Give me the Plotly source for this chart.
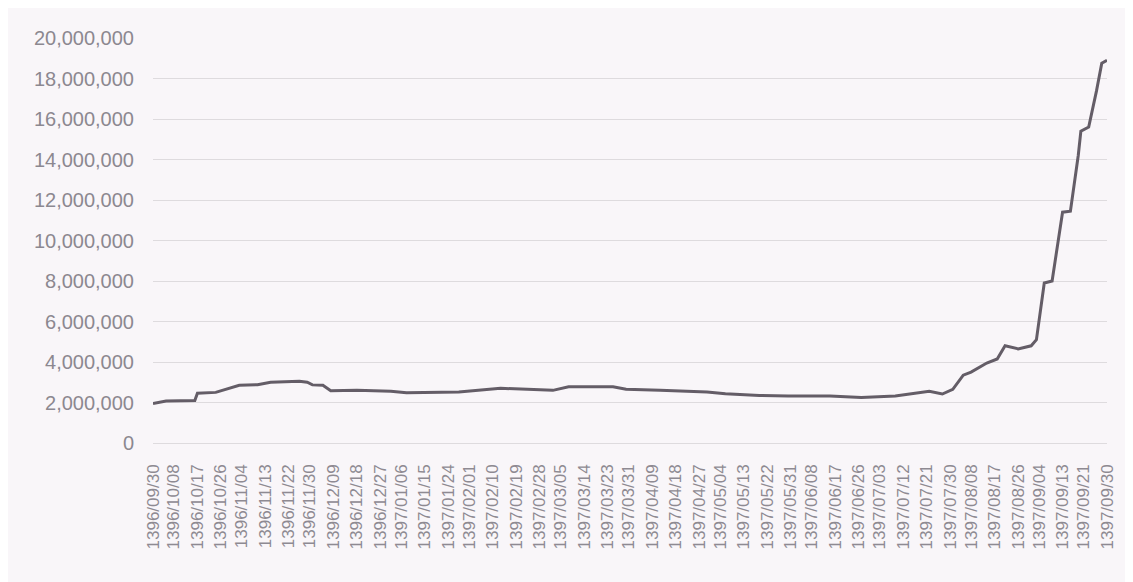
import plotly.graph_objects as go

# ---- categories: every calendar day from 1396/09/30 to 1397/09/30 ----
month_lengths_1396 = {9: 30, 10: 30, 11: 30, 12: 29}
month_lengths_1397 = {1: 31, 2: 31, 3: 31, 4: 31, 5: 31, 6: 31, 7: 30, 8: 30, 9: 30}

all_dates = ["1396/09/30"]
for m in (10, 11, 12):
    for d in range(1, month_lengths_1396[m] + 1):
        all_dates.append(f"1396/{m:02d}/{d:02d}")
for m in range(1, 10):
    for d in range(1, month_lengths_1397[m] + 1):
        all_dates.append(f"1397/{m:02d}/{d:02d}")

# ---- tick labels shown on the x axis ----
tick_labels = [
    "1396/09/30", "1396/10/08", "1396/10/17", "1396/10/26", "1396/11/04", "1396/11/13",
    "1396/11/22", "1396/11/30", "1396/12/09", "1396/12/18", "1396/12/27", "1397/01/06",
    "1397/01/15", "1397/01/24", "1397/02/01", "1397/02/10", "1397/02/19", "1397/02/28",
    "1397/03/05", "1397/03/14", "1397/03/23", "1397/03/31", "1397/04/09", "1397/04/18",
    "1397/04/27", "1397/05/04", "1397/05/13", "1397/05/22", "1397/05/31", "1397/06/08",
    "1397/06/17", "1397/06/26", "1397/07/03", "1397/07/12", "1397/07/21", "1397/07/30",
    "1397/08/08", "1397/08/17", "1397/08/26", "1397/09/04", "1397/09/13", "1397/09/21",
    "1397/09/30",
]

# ---- values ----
sample_dates = [
    "1396/09/30", "1396/10/05", "1396/10/16", "1396/10/17", "1396/10/24", "1396/10/28",
    "1396/11/03", "1396/11/10", "1396/11/15", "1396/11/26", "1396/11/29", "1396/12/01",
    "1396/12/05", "1396/12/08", "1396/12/18", "1397/01/02", "1397/01/08", "1397/01/28",
    "1397/02/13", "1397/03/02", "1397/03/08", "1397/03/25", "1397/03/30", "1397/04/12",
    "1397/04/30", "1397/05/06", "1397/05/19", "1397/05/30", "1397/06/15", "1397/06/27",
    "1397/07/09", "1397/07/22", "1397/07/27", "1397/08/01", "1397/08/05", "1397/08/08",
    "1397/08/14", "1397/08/18", "1397/08/21", "1397/08/26", "1397/09/01", "1397/09/03",
    "1397/09/06", "1397/09/09", "1397/09/11", "1397/09/13", "1397/09/16", "1397/09/19",
    "1397/09/20", "1397/09/23", "1397/09/26", "1397/09/28", "1397/09/30",
]
sample_values = [
    1950000, 2070000, 2100000, 2460000, 2500000, 2650000,
    2850000, 2880000, 3000000, 3050000, 3000000, 2870000,
    2850000, 2580000, 2600000, 2560000, 2480000, 2520000,
    2700000, 2600000, 2780000, 2780000, 2650000, 2600000,
    2520000, 2430000, 2350000, 2320000, 2320000, 2250000,
    2320000, 2550000, 2420000, 2650000, 3350000, 3500000,
    3950000, 4150000, 4800000, 4650000, 4800000, 5100000,
    7900000, 8000000, 9800000, 11400000, 11450000, 14200000,
    15400000, 15600000, 17400000, 18750000, 18900000,
]

value_by_date = dict(zip(sample_dates, sample_values))
y_full = [value_by_date.get(d) for d in all_dates]

fig = go.Figure()
fig.add_trace(go.Scatter(
    x=all_dates, y=y_full, mode="lines", connectgaps=True,
    line=dict(color="#645d67", width=3),
    showlegend=False, hoverinfo="x+y",
))

bg = "#f9f6f9"
fig.update_layout(
    width=1133, height=582,
    margin=dict(l=145, r=34, t=30, b=147),
    paper_bgcolor=bg, plot_bgcolor=bg,
    font=dict(family="Liberation Sans, Arial, sans-serif", color="#8c8890"),
    xaxis=dict(
        type="category", categoryorder="array", categoryarray=all_dates,
        tickmode="array", tickvals=tick_labels, ticktext=tick_labels,
        tickangle=-90, tickfont=dict(size=17, color="#8e8a92"),
        showgrid=False, showline=False, zeroline=False, ticks="",
        ticklabelstandoff=17,
        range=[0, len(all_dates) - 1],
    ),
    yaxis=dict(
        range=[0, 20000000], tickmode="linear", tick0=0, dtick=2000000,
        tickformat=",d", tickfont=dict(size=20, color="#8c8890"),
        showgrid=True, gridcolor="#dedbde", gridwidth=1,
        zeroline=True, zerolinecolor="#dedbde", zerolinewidth=1,
        showline=False, ticks="", ticklabelstandoff=18,
    ),
)

fig.write_html("out.html")
